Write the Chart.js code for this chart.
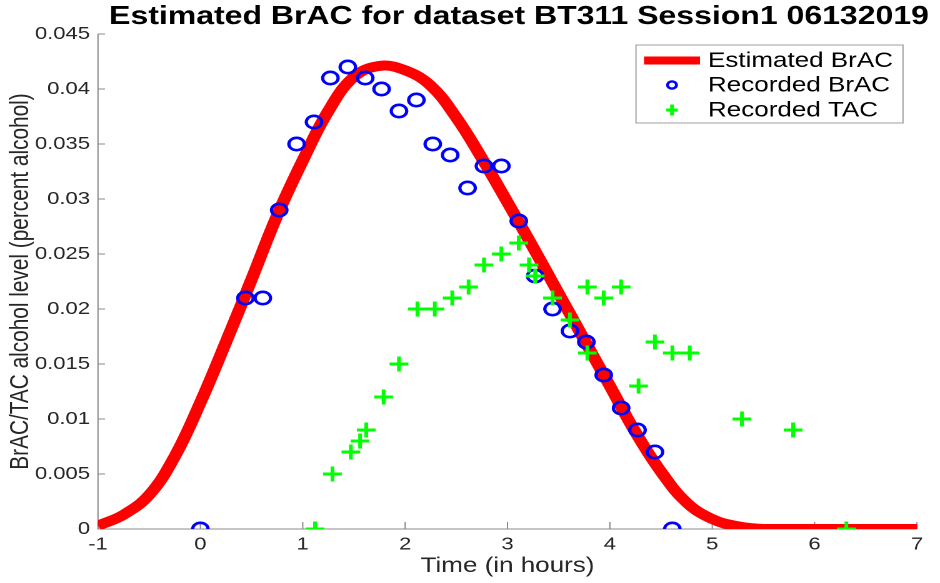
<!DOCTYPE html>
<html>
<head>
<meta charset="utf-8">
<script src="https://cdn.jsdelivr.net/npm/chart.js@4.4.1/dist/chart.umd.min.js"></script>
<style>
html,body{margin:0;padding:0;background:#fff;overflow:hidden;width:940px;height:583px;}
#wrap{position:absolute;left:0;top:0;height:583px;transform-origin:0 0;}
</style>
</head>
<body>
<div id="wrap"><canvas id="c"></canvas></div>
<script>
// ---- data ----
const chartTitle = 'Estimated BrAC for dataset BT311 Session1 06132019';
const xTitle = 'Time (in hours)';
const yTitle = 'BrAC/TAC alcohol level (percent alcohol)';
const seriesNames = ['Estimated BrAC', 'Recorded BrAC', 'Recorded TAC'];

const xTicks = [-1, 0, 1, 2, 3, 4, 5, 6, 7];
const xTickLabels = ['-1', '0', '1', '2', '3', '4', '5', '6', '7'];
const yTicks = [0, 0.005, 0.01, 0.015, 0.02, 0.025, 0.03, 0.035, 0.04, 0.045];
const yTickLabels = ['0', '0.005', '0.01', '0.015', '0.02', '0.025', '0.03', '0.035', '0.04', '0.045'];

const estTime = [-1, -0.75, -0.5, -0.25, 0, 0.25, 0.5, 0.75, 1, 1.25, 1.5, 1.75, 2, 2.25, 2.5, 2.75, 3, 3.25, 3.5, 3.75, 4, 4.25, 4.5, 4.75, 5, 5.25, 5.5, 6, 6.5, 7];
const estBrAC = [0.0003, 0.0013, 0.0031, 0.0066, 0.0115, 0.017, 0.0227, 0.0285, 0.0335, 0.038, 0.0411, 0.0421, 0.0417, 0.0403, 0.0374, 0.0337, 0.0297, 0.0256, 0.0214, 0.0172, 0.013, 0.0088, 0.0052, 0.0024, 0.0009, 0.00025, 0, 0, 0, 0];

const brTime = [0, 0.44, 0.61, 0.77, 0.94, 1.11, 1.27, 1.44, 1.61, 1.77, 1.94, 2.11, 2.27, 2.44, 2.61, 2.77, 2.94, 3.11, 3.27, 3.44, 3.61, 3.77, 3.94, 4.11, 4.27, 4.44, 4.61];
const brVal = [0, 0.021, 0.021, 0.029, 0.035, 0.037, 0.041, 0.042, 0.041, 0.040, 0.038, 0.039, 0.035, 0.034, 0.031, 0.033, 0.033, 0.028, 0.023, 0.020, 0.018, 0.017, 0.014, 0.011, 0.009, 0.007, 0];

const tacTime = [1.12, 1.29, 1.47, 1.56, 1.62, 1.79, 1.94, 2.12, 2.29, 2.46, 2.62, 2.77, 2.94, 3.11, 3.21, 3.27, 3.44, 3.61, 3.78, 3.78, 3.94, 4.11, 4.28, 4.44, 4.61, 4.78, 5.29, 5.79, 6.31];
const tacVal = [0, 0.005, 0.007, 0.008, 0.009, 0.012, 0.015, 0.020, 0.020, 0.021, 0.022, 0.024, 0.025, 0.026, 0.024, 0.023, 0.021, 0.019, 0.016, 0.022, 0.021, 0.022, 0.013, 0.017, 0.016, 0.016, 0.010, 0.009, 0];

// ---- layout (reference looks horizontally stretched) ----
const S = 1.25;
const W = 940 / S;
const FONT = '"Liberation Sans", Arial, Helvetica, sans-serif';
const wrap = document.getElementById('wrap');
wrap.style.width = W + 'px';
wrap.style.transform = 'scaleX(' + S + ')';

const pts = (xs, ys) => xs.map((v, i) => ({x: v, y: ys[i]}));

const decor = {
  id: 'decor',
  beforeDatasetsDraw(chart) {
    const {ctx, chartArea: a, scales: {x, y}} = chart;
    ctx.save();
    ctx.strokeStyle = '#8a8a8a';
    ctx.lineWidth = 1;
    ctx.beginPath();
    ctx.moveTo(a.left, a.top);
    ctx.lineTo(a.left, a.bottom);
    ctx.lineTo(a.right, a.bottom);
    ctx.stroke();
    ctx.beginPath();
    xTicks.forEach(v => {
      const px = x.getPixelForValue(v);
      ctx.moveTo(px, a.bottom);
      ctx.lineTo(px, a.bottom - 7);
    });
    yTicks.forEach(v => {
      const py = y.getPixelForValue(v);
      ctx.moveTo(a.left, py);
      ctx.lineTo(a.left + 7 / S, py);
    });
    ctx.stroke();
    ctx.restore();
  },
  afterDraw(chart) {
    const {ctx} = chart;
    ctx.save();
    // title
    ctx.fillStyle = '#000';
    ctx.font = 'bold 25.6px ' + FONT;
    ctx.textAlign = 'center';
    ctx.textBaseline = 'middle';
    ctx.fillText(chartTitle, 519 / S, 17);
    // legend box
    const bx0 = 636 / S, by0 = 45, bx1 = 903 / S, by1 = 123;
    ctx.fillStyle = '#fff';
    ctx.fillRect(bx0, by0, bx1 - bx0, by1 - by0);
    ctx.strokeStyle = '#a0a0a0';
    ctx.lineWidth = 1;
    ctx.strokeRect(bx0, by0, bx1 - bx0, by1 - by0);
    const rows = [60.5, 85, 110];
    const ds = chart.data.datasets;
    const mx = 672 / S;
    // line sample
    ctx.strokeStyle = ds[0].borderColor;
    ctx.lineWidth = 8;
    ctx.beginPath();
    ctx.moveTo(644 / S, rows[0]);
    ctx.lineTo(700 / S, rows[0]);
    ctx.stroke();
    // circle sample
    ctx.strokeStyle = ds[1].borderColor;
    ctx.lineWidth = 2.4;
    ctx.beginPath();
    ctx.arc(mx, rows[1], 3.6, 0, Math.PI * 2);
    ctx.stroke();
    // plus sample
    ctx.strokeStyle = ds[2].borderColor;
    ctx.lineWidth = 3;
    ctx.beginPath();
    ctx.moveTo(mx - 4.6, rows[2]); ctx.lineTo(mx + 4.6, rows[2]);
    ctx.moveTo(mx, rows[2] - 5.5); ctx.lineTo(mx, rows[2] + 5.5);
    ctx.stroke();
    ctx.fillStyle = '#000';
    ctx.font = '20.8px ' + FONT;
    ctx.textAlign = 'left';
    ctx.textBaseline = 'middle';
    seriesNames.forEach((n, i) => ctx.fillText(n, 708 / S, rows[i] + 1));
    ctx.restore();
  }
};

new Chart(document.getElementById('c'), {
  type: 'scatter',
  data: {
    datasets: [
      {
        label: seriesNames[0], data: pts(estTime, estBrAC), showLine: true,
        borderColor: '#ff0000', backgroundColor: '#ff0000', borderWidth: 10,
        pointRadius: 0, tension: 0.4, order: 3,
        borderCapStyle: 'butt', borderJoinStyle: 'round'
      },
      {
        label: seriesNames[1], data: pts(brTime, brVal), showLine: false,
        borderColor: '#0000ff', backgroundColor: 'rgba(0,0,0,0)',
        pointStyle: 'circle', pointRadius: 6.2, pointBorderWidth: 2.6, order: 2
      },
      {
        label: seriesNames[2], data: pts(tacTime, tacVal), showLine: false,
        borderColor: '#00ff00', backgroundColor: '#00ff00',
        pointStyle: 'cross', pointRadius: 7.5, pointBorderWidth: 3, order: 1
      }
    ]
  },
  options: {
    responsive: true,
    maintainAspectRatio: false,
    animation: false,
    devicePixelRatio: 2,
    layout: {padding: {top: 34, right: W - 917 / S, bottom: 0, left: 0}},
    plugins: {legend: {display: false}, tooltip: {enabled: false}, title: {display: false}},
    scales: {
      x: {
        type: 'linear', min: -1, max: 7,
        afterBuildTicks: s => { s.ticks = xTicks.map(v => ({value: v})); },
        afterFit: s => { s.height = 54; },
        ticks: {
          callback: (v, i) => xTickLabels[i], autoSkip: false, maxRotation: 0,
          padding: 5, color: '#262626', font: {family: FONT, size: 17.6}
        },
        grid: {display: false, drawTicks: false},
        border: {display: false},
        title: {display: true, text: xTitle, color: '#262626', font: {family: FONT, size: 20.8}, padding: {top: 0, bottom: 4.5}}
      },
      y: {
        type: 'linear', min: 0, max: 0.045,
        afterBuildTicks: s => { s.ticks = yTicks.map(v => ({value: v})); },
        afterFit: s => { s.width = 98 / S; },
        ticks: {
          callback: (v, i) => yTickLabels[i], autoSkip: false,
          padding: 6.4, color: '#262626', font: {family: FONT, size: 17.6}
        },
        grid: {display: false, drawTicks: false},
        border: {display: false},
        title: {display: true, text: yTitle, color: '#262626', font: {family: FONT, size: 20.8}, padding: {top: 4.3, bottom: 0}}
      }
    }
  },
  plugins: [decor]
});
</script>
</body>
</html>
